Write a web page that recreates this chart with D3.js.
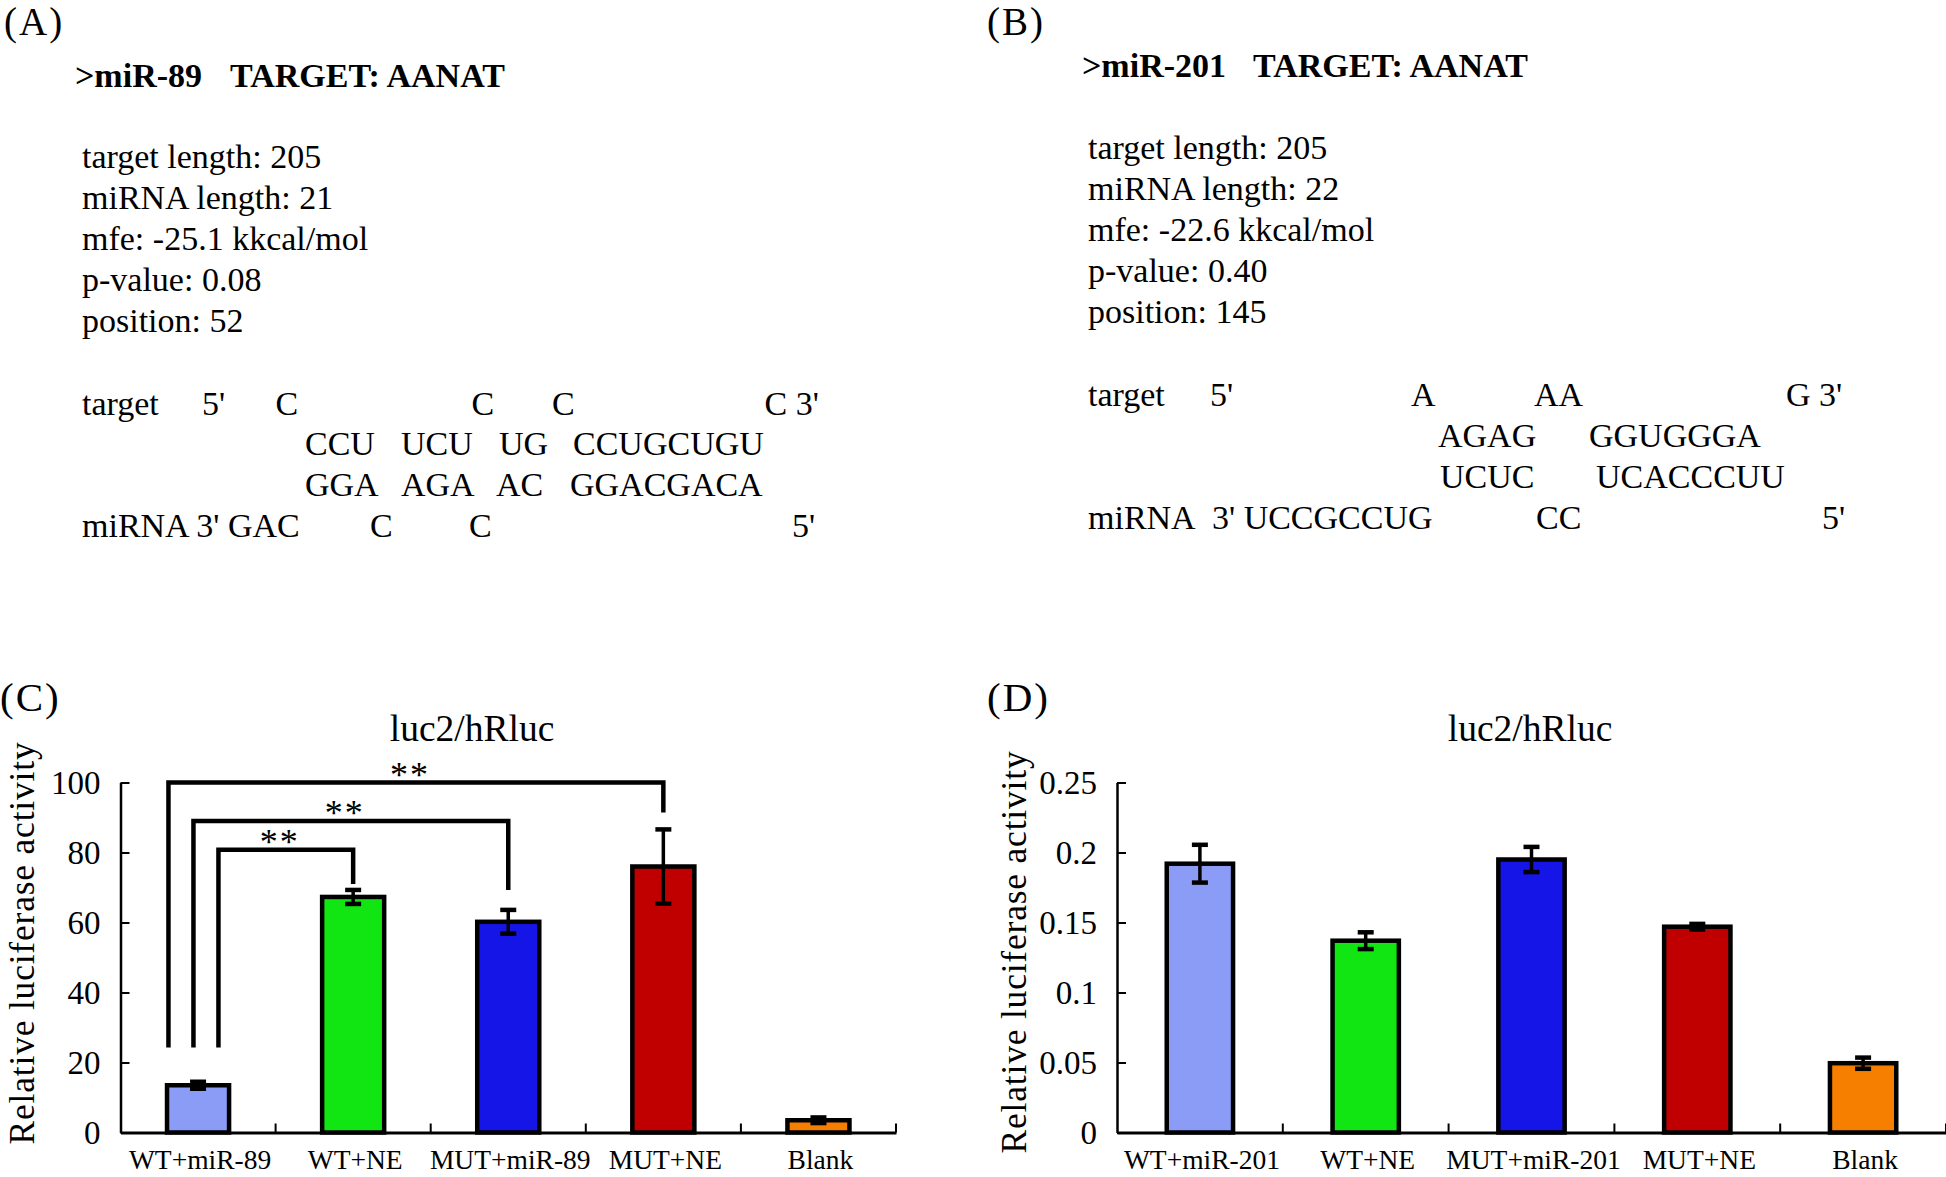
<!DOCTYPE html>
<html>
<head>
<meta charset="utf-8">
<script src="https://cdn.jsdelivr.net/npm/d3@7"></script>
<style>
  html, body { margin: 0; padding: 0; background: #fff; }
  svg text { font-family: "Liberation Serif", "Times New Roman", serif; fill: #000; white-space: pre; }
</style>
</head>
<body>
<svg id="chart" width="1946" height="1177"></svg>
<script>
// ---------------- DATA ----------------
const infoA = ["target length: 205", "miRNA length: 21", "mfe: -25.1 kkcal/mol", "p-value: 0.08", "position: 52"];
const infoB = ["target length: 205", "miRNA length: 22", "mfe: -22.6 kkcal/mol", "p-value: 0.40", "position: 145"];

const categoriesC = ["WT+miR-89", "WT+NE", "MUT+miR-89", "MUT+NE", "Blank"];
const valuesC = [13.5, 67.3, 60.2, 76.0, 3.5];
const errorsC = [1.0, 2.0, 3.4, 10.6, 0.8];
const ticksC = [0, 20, 40, 60, 80, 100];
const tickLabelsC = ["0", "20", "40", "60", "80", "100"];

const categoriesD = ["WT+miR-201", "WT+NE", "MUT+miR-201", "MUT+NE", "Blank"];
const valuesD = [0.192, 0.137, 0.195, 0.147, 0.0495];
const errorsD = [0.0135, 0.006, 0.009, 0.002, 0.004];
const ticksD = [0, 0.05, 0.1, 0.15, 0.2, 0.25];
const tickLabelsD = ["0", "0.05", "0.1", "0.15", "0.2", "0.25"];

const barColors = ["#8b9cf7", "#12e612", "#1515e8", "#c00000", "#f77f00"];

// significance brackets (panel C): from group, to group, top value, right-leg end value, label
const bracketFrom = ["WT+miR-89", "WT+miR-89", "WT+miR-89"];
const bracketTo = ["MUT+NE", "MUT+miR-89", "WT+NE"];
const bracketTop = [100, 89, 80.8];
const bracketRightEnd = [91.4, 69.3, 71];
const bracketLeftEnd = [24.3, 24.3, 24.3];
const bracketLabel = ["**", "**", "**"];

// ---------------- DRAW ----------------
const svg = d3.select("#chart");
const FONT = 34;

function label(x, y, txt, size, weight, anchor) {
  return svg.append("text").attr("x", x).attr("y", y).attr("font-size", size)
    .attr("font-weight", weight || "normal").attr("text-anchor", anchor || "start").text(txt);
}

// Panel A
label(4, 35, "(A)", 39).attr("letter-spacing", 2);
label(75, 87, ">miR-89", 34, "bold");
label(230, 87, "TARGET: AANAT", 34, "bold");
infoA.forEach((t, i) => label(82, 167.5 + i * 41, t, FONT));
const alignA = [
  [414.5, [[82, "target"], [202, "5'"], [275.5, "C"], [471.6, "C"], [552, "C"], [764.5, "C 3'"]]],
  [455.4, [[305, "CCU"], [401, "UCU"], [499, "UG"], [573, "CCUGCUGU"]]],
  [496.4, [[305, "GGA"], [401, "AGA"], [496, "AC"], [570, "GGACGACA"]]],
  [537.4, [[82, "miRNA 3' GAC"], [370, "C"], [469, "C"], [792, "5'"]]]
];
alignA.forEach(([y, items]) => items.forEach(([x, t]) => label(x, y, t, FONT)));

// Panel B
label(987, 35, "(B)", 39).attr("letter-spacing", 2);
label(1082, 77, ">miR-201", 34, "bold");
label(1253, 77, "TARGET: AANAT", 34, "bold");
infoB.forEach((t, i) => label(1088, 159 + i * 41, t, FONT));
const alignB = [
  [406, [[1088, "target"], [1210, "5'"], [1411, "A"], [1534, "AA"], [1786, "G 3'"]]],
  [447, [[1438, "AGAG"], [1589, "GGUGGGA"]]],
  [488, [[1440, "UCUC"], [1596, "UCACCCUU"]]],
  [529, [[1088, "miRNA"], [1212, "3' UCCGCCUG"], [1536, "CC"], [1822, "5'"]]]
];
alignB.forEach(([y, items]) => items.forEach(([x, t]) => label(x, y, t, FONT)));

// Bar panels
function barPanel(opts) {
  const { x0, x1, yTop, yBottom, cats, vals, errs, ticks, tickLabels, ymax, title, titleX, letter, letterX, ylabX, ylabY } = opts;
  const g = svg.append("g");
  const x = d3.scaleBand().domain(cats).range([x0, x1]).padding(0);
  const y = d3.scaleLinear().domain([0, ymax]).range([yBottom, yTop]);
  const bw = x.bandwidth() * 0.4;

  label(letterX, 711, letter, 41).attr("letter-spacing", 2);
  label(titleX, 741, title, 37.5, "normal", "middle");

  // y label
  svg.append("text").attr("transform", `translate(${ylabX},${ylabY}) rotate(-90)`)
    .attr("text-anchor", "middle").attr("font-size", 35.5).attr("letter-spacing", 0.8)
    .text("Relative luciferase activity");

  // y axis
  const yAxis = d3.axisLeft(y).tickValues(ticks).tickFormat((d, i) => tickLabels[i])
    .tickSizeInner(-9).tickSizeOuter(0).tickPadding(20);
  const ya = g.append("g").attr("transform", `translate(${x0},0)`).call(yAxis);
  ya.select(".domain").attr("stroke", "#000").attr("stroke-width", 2.5);
  ya.selectAll(".tick line").attr("stroke", "#000").attr("stroke-width", 2);
  ya.selectAll(".tick text").attr("font-family", "Liberation Serif").attr("font-size", 33).attr("fill", "#000");

  // bars
  g.selectAll("rect.bar").data(vals).join("rect").attr("class", "bar")
    .attr("x", (d, i) => x(cats[i]) + (x.bandwidth() - bw) / 2)
    .attr("width", bw)
    .attr("y", d => y(d))
    .attr("height", d => y(0) - y(d))
    .attr("fill", (d, i) => barColors[i])
    .attr("stroke", "#000").attr("stroke-width", 4.5);

  // x axis line and boundary ticks
  const xAxis = d3.axisBottom(x).tickSize(0).tickFormat("");
  const xa = g.append("g").attr("transform", `translate(0,${yBottom})`).call(xAxis);
  xa.select(".domain").attr("stroke", "#000").attr("stroke-width", 3);
  g.selectAll("line.bt").data(cats.slice(1).concat(["__end"])).join("line").attr("class", "bt")
    .attr("x1", (d, i) => x.range()[0] + x.step() * (i + 1))
    .attr("x2", (d, i) => x.range()[0] + x.step() * (i + 1))
    .attr("y1", yBottom).attr("y2", yBottom - 9)
    .attr("stroke", "#000").attr("stroke-width", 2);

  // x labels
  g.selectAll("text.xl").data(cats).join("text").attr("class", "xl")
    .attr("x", d => x(d) + x.bandwidth() / 2 + 2)
    .attr("y", 1169).attr("text-anchor", "middle").attr("font-size", 27.5)
    .text(d => d);

  // error bars
  const cx = (i) => x(cats[i]) + x.bandwidth() / 2;
  g.selectAll("line.es").data(vals).join("line").attr("class", "es")
    .attr("x1", (d, i) => cx(i)).attr("x2", (d, i) => cx(i))
    .attr("y1", (d, i) => y(d + errs[i])).attr("y2", (d, i) => y(d - errs[i]))
    .attr("stroke", "#000").attr("stroke-width", 3.5);
  ["hi", "lo"].forEach(k => {
    g.selectAll("line.ec" + k).data(vals).join("line").attr("class", "ec" + k)
      .attr("x1", (d, i) => cx(i) - 8).attr("x2", (d, i) => cx(i) + 8)
      .attr("y1", (d, i) => y(k === "hi" ? d + errs[i] : d - errs[i]))
      .attr("y2", (d, i) => y(k === "hi" ? d + errs[i] : d - errs[i]))
      .attr("stroke", "#000").attr("stroke-width", 4.5);
  });
  return { x, y, g };
}

const C = barPanel({
  x0: 120.5, x1: 896, yTop: 782.5, yBottom: 1132.5, cats: categoriesC, vals: valuesC, errs: errorsC,
  ticks: ticksC, tickLabels: tickLabelsC, ymax: 100, title: "luc2/hRluc", titleX: 472,
  letter: "(C)", letterX: 0, ylabX: 34, ylabY: 943
});
const D = barPanel({
  x0: 1117, x1: 1946, yTop: 782.5, yBottom: 1132.5, cats: categoriesD, vals: valuesD, errs: errorsD,
  ticks: ticksD, tickLabels: tickLabelsD, ymax: 0.25, title: "luc2/hRluc", titleX: 1530,
  letter: "(D)", letterX: 987, ylabX: 1026, ylabY: 952
});

// significance brackets on panel C
const legOffsets = [-29.6, -4.6, 20.4];
bracketFrom.forEach((f, i) => {
  const xl = C.x(f) + C.x.bandwidth() / 2 + legOffsets[i];
  const xr = C.x(bracketTo[i]) + C.x.bandwidth() / 2;
  const yt = C.y(bracketTop[i]);
  const path = d3.path();
  path.moveTo(xl, C.y(bracketLeftEnd[i]));
  path.lineTo(xl, yt);
  path.lineTo(xr, yt);
  path.lineTo(xr, C.y(bracketRightEnd[i]));
  C.g.append("path").attr("d", path.toString()).attr("fill", "none")
    .attr("stroke", "#000").attr("stroke-width", 4.5).attr("stroke-linejoin", "miter");
  svg.append("text").attr("x", (xl + xr) / 2 - 6).attr("y", yt + 4)
    .attr("text-anchor", "middle").attr("font-size", 36).attr("font-family", "DejaVu Sans")
    .attr("letter-spacing", 2).text(bracketLabel[i]);
});
</script>
</body>
</html>
